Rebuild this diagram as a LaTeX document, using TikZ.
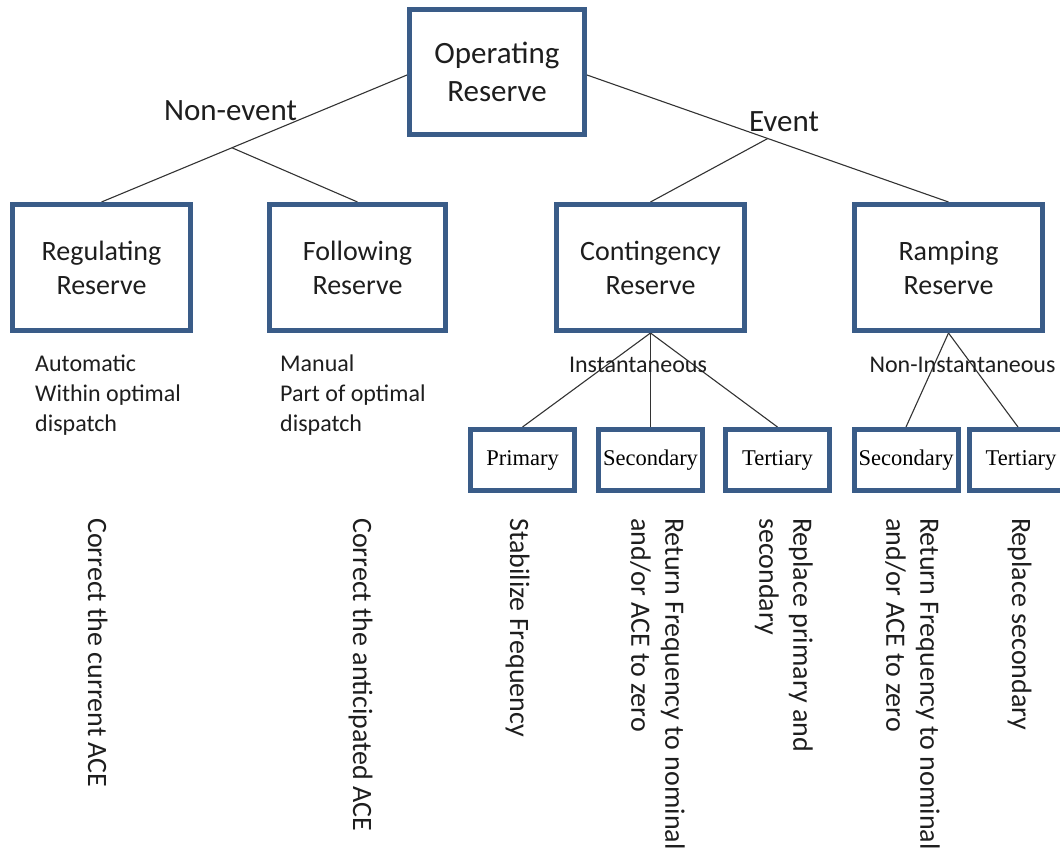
\documentclass[tikz,border=0pt]{standalone}
\usepackage{fontspec}
\setmainfont{Carlito}
\newfontfamily\timesf{Liberation Serif}
\usetikzlibrary{calc,backgrounds}
\definecolor{boxblue}{RGB}{58,92,136}
\definecolor{txt}{RGB}{30,30,30}
\begin{document}
\begin{tikzpicture}[x=1pt,y=-1pt,
  bigbox/.style={draw=boxblue, line width=5pt, fill=white, minimum width=#1,
    minimum height=126pt, align=center, inner sep=0pt, text=txt,
    font=\fontsize{28}{34}\selectfont},
  bigbox/.default=178pt,
  smallbox/.style={draw=boxblue, line width=5pt, fill=white, minimum width=104pt,
    minimum height=61pt, inner sep=0pt, text=black, font=\timesf\fontsize{22.5}{26}\selectfont},
  conn/.style={draw=black!80, line width=1.1pt},
  lbl/.style={inner sep=0pt, text=txt, font=\fontsize{31}{36}\selectfont},
  midlbl/.style={inner sep=0pt, text=txt, font=\fontsize{24}{30}\selectfont},
  note/.style={inner sep=0pt, align=left, text=txt, font=\fontsize{24}{30}\selectfont},
  rot/.style={rotate=-90, inner sep=0pt, align=left, text=txt, font=\fontsize{28}{34}\selectfont}]
\useasboundingbox (0,0) rectangle (1060,851);
\clip (0,0) rectangle (1060,851);

% main boxes
\node[bigbox=175pt, minimum height=125pt, font=\fontsize{31}{38}\selectfont] (op) at (497,72) {Operating\\Reserve};
\node[bigbox=178pt] (reg) at (101.5,267.5) {Regulating\\Reserve};
\node[bigbox=176pt] (fol) at (357.5,267.5) {Following\\Reserve};
\node[bigbox=188pt] (con) at (650.5,267.5) {Contingency\\Reserve};
\node[bigbox=188pt] (ram) at (948.5,267.5) {Ramping\\Reserve};

% small boxes
\node[smallbox] (pri) at (522.5,460) {Primary};
\node[smallbox] (sec1) at (650.5,460) {Secondary};
\node[smallbox] (ter1) at (777.5,460) {Tertiary};
\node[smallbox] (sec2) at (906,460) {Secondary};
\node[smallbox] (ter2) at (1021,460) {Tertiary};

% connectors
\begin{scope}[on background layer]
\draw[conn] ([yshift=-3pt]op.west) -- coordinate[pos=0.573] (nb) (reg.north);
\draw[conn] (nb) -- (fol.north);
\draw[conn] ([yshift=-3pt]op.east) -- coordinate[pos=0.5] (eb) (ram.north);
\draw[conn] (eb) -- (con.north);
\draw[conn] (con.south) -- (pri.north);
\draw[conn] (con.south) -- (sec1.north);
\draw[conn] (con.south) -- (ter1.north);
\draw[conn] (ram.south) -- (sec2.north);
\draw[conn] (ram.south) -- ([xshift=-3pt]ter2.north);
\end{scope}

% branch labels
\node[lbl, anchor=base] (ne) at (230.5,120) {Non-event};
\node[lbl, anchor=base] (ev) at (784,131) {Event};
\node[midlbl, anchor=base] (inst) at (638,372) {Instantaneous};
\node[midlbl, anchor=base] (ninst) at (962.5,372) {Non-Instantaneous};

% notes
\node[note, anchor=north west] (regn) at (35,355) {Automatic\\Within optimal\\dispatch};
\node[note, anchor=north west] (foln) at (280,355) {Manual\\Part of optimal\\dispatch};

% rotated descriptions
\node[rot, anchor=base west] (d1) at (88,518) {Correct the current ACE};
\node[rot, anchor=base west] (d2) at (353,518) {Correct the anticipated ACE};
\node[rot, anchor=base west] (d3) at (510,518) {Stabilize Frequency};
\node[rot, anchor=north west] (d4) at (685,518) {Return Frequency to nominal\\and/or ACE to zero};
\node[rot, anchor=north west] (d5) at (813,518) {Replace primary and\\secondary};
\node[rot, anchor=north west] (d6) at (940,518) {Return Frequency to nominal\\and/or ACE to zero};
\node[rot, anchor=base west] (d7) at (1012,518) {Replace secondary};
\end{tikzpicture}
\end{document}
